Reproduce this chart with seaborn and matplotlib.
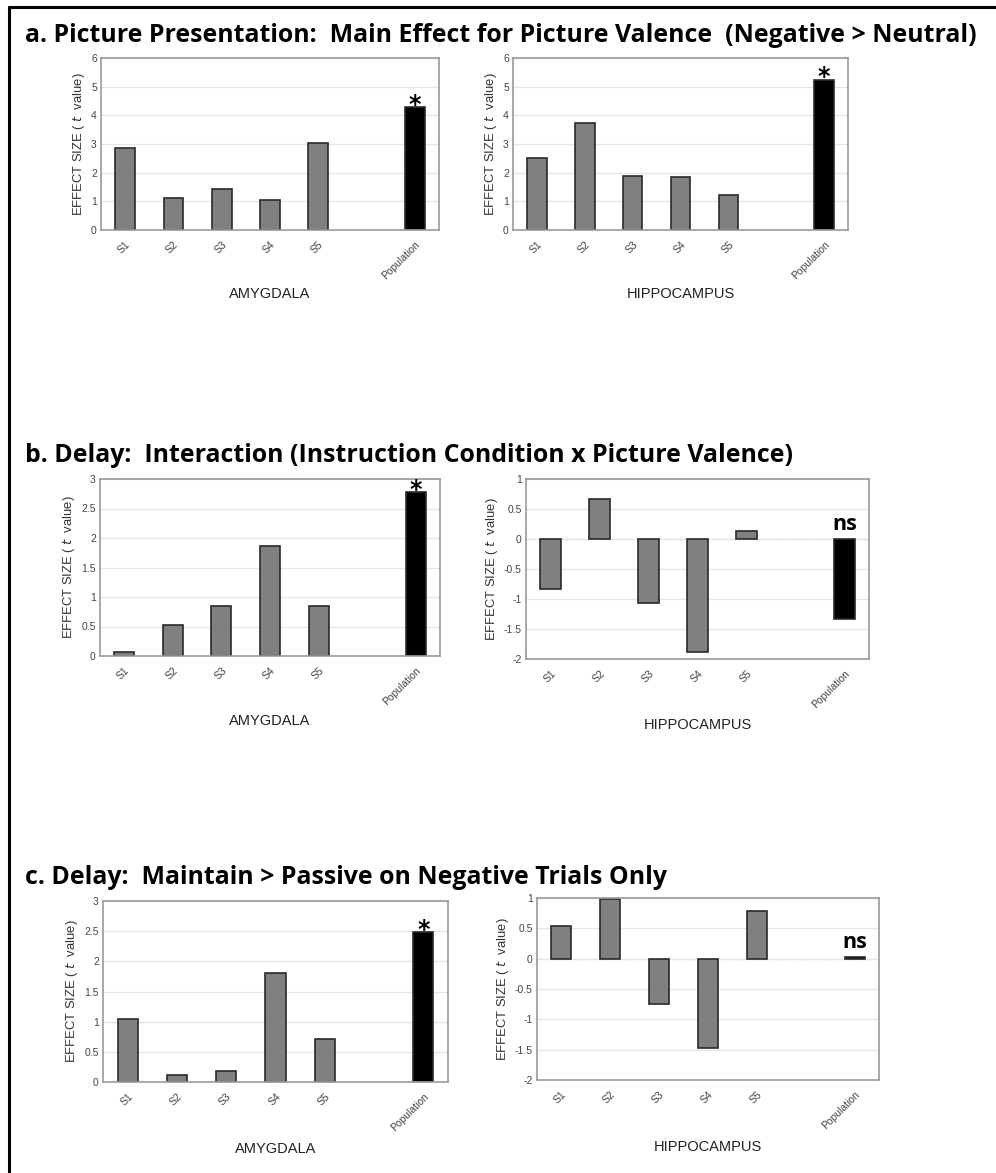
import pandas as pd
import seaborn as sns
import matplotlib.pyplot as plt
from matplotlib.lines import Line2D
from matplotlib.transforms import ScaledTranslation

# categories (blank slot between S5 and Population)
subjects = ["S1", "S2", "S3", "S4", "S5"]
population = "Population"
order = subjects + [" ", population]

# a. Picture presentation
a_amygdala = [2.85, 1.10, 1.42, 1.05, 3.05]
a_amygdala_pop = 4.30
a_hippocampus = [2.50, 3.73, 1.88, 1.85, 1.22]
a_hippocampus_pop = 5.25

# b. Delay interaction
b_amygdala = [0.07, 0.52, 0.84, 1.87, 0.84]
b_amygdala_pop = 2.78
b_hippocampus = [-0.83, 0.66, -1.07, -1.88, 0.14]
b_hippocampus_pop = -1.34

# c. Delay maintain > passive
c_amygdala = [1.05, 0.12, 0.18, 1.80, 0.72]
c_amygdala_pop = 2.48
c_hippocampus = [0.54, 0.99, -0.75, -1.48, 0.79]
c_hippocampus_pop = 0.02

titles = [
    "a. Picture Presentation:  Main Effect for Picture Valence  (Negative > Neutral)",
    "b. Delay:  Interaction (Instruction Condition x Picture Valence)",
    "c. Delay:  Maintain > Passive on Negative Trials Only",
]

sns.set_theme(style="white")
plt.rcParams["font.family"] = ["Liberation Sans", "DejaVu Sans"]

W, H = 996, 1173
fig = plt.figure(figsize=(W / 100, H / 100), dpi=100)


def px_axes(x0, y0, x1, y1):
    return fig.add_axes([x0 / W, 1 - y1 / H, (x1 - x0) / W, (y1 - y0) / H])


def draw_panel(ax, vals, pop, ylim, step, region, mark):
    df = pd.DataFrame({
        "cat": subjects + [population],
        "val": vals + [pop],
        "grp": ["subj"] * len(vals) + ["pop"],
    })
    sns.barplot(data=df, x="cat", y="val", hue="grp", order=order,
                palette={"subj": "#808080", "pop": "#000000"},
                dodge=False, legend=False, width=0.41,
                edgecolor="#2a2a2a", linewidth=1.2, ax=ax)
    ax.set_xlim(-0.5, 6.5)
    ax.set_ylim(*ylim)
    ticks = []
    t = ylim[0]
    while t <= ylim[1] + 1e-9:
        ticks.append(round(t, 2))
        t += step
    ax.set_yticks(ticks)
    ax.set_yticklabels([f"{v:g}" for v in ticks], fontsize=7.5, color="#444444")
    ax.yaxis.grid(True, color="#e4e4e4", linewidth=0.9)
    ax.set_axisbelow(True)
    if ylim[0] < 0:
        ax.axhline(0, color="#d8d8d8", linewidth=0.9, linestyle=(0, (6, 4)), zorder=0.5)
    ax.set_xticks(range(len(order)))
    ax.set_xticklabels([c if c.strip() else "" for c in order], rotation=45,
                       ha="right", rotation_mode="anchor", fontsize=7.5, color="#444444")
    ax.tick_params(axis="both", length=0, pad=3)
    ax.tick_params(axis="x", pad=7)
    for s in ax.spines.values():
        s.set_color("#9a9a9a")
        s.set_linewidth(1.2)
    ax.set_ylabel("EFFECT SIZE ( $t$  value)", fontsize=9.4, color="#333333", labelpad=3)
    ax.set_xlabel(region, fontsize=10.5, color="#222222", va="top")
    ax.xaxis.set_label_coords(0.5, -0.33)
    px = order.index(population)
    if mark == "*":
        ax.text(px, pop, "*", ha="center", va="center", fontsize=17,
                fontweight="bold", color="black", family="DejaVu Sans",
                transform=ax.transData + ScaledTranslation(0, 0.02, fig.dpi_scale_trans))
    else:
        base = max(pop, 0)
        ax.annotate("ns", (px, base), xytext=(0, 3), textcoords="offset points",
                    ha="center", va="bottom", fontsize=15.5, fontweight="bold",
                    family="Open Sans", color="black")


ax = px_axes(101, 58, 439, 230)
draw_panel(ax, a_amygdala, a_amygdala_pop, (0, 6), 1, "AMYGDALA", "*")
ax = px_axes(513, 58, 848, 230)
draw_panel(ax, a_hippocampus, a_hippocampus_pop, (0, 6), 1, "HIPPOCAMPUS", "*")
ax = px_axes(100, 479, 440, 656)
draw_panel(ax, b_amygdala, b_amygdala_pop, (0, 3), 0.5, "AMYGDALA", "*")
ax = px_axes(526, 479, 869, 659)
draw_panel(ax, b_hippocampus, b_hippocampus_pop, (-2, 1), 0.5, "HIPPOCAMPUS", "ns")
ax = px_axes(103, 901, 448, 1082)
draw_panel(ax, c_amygdala, c_amygdala_pop, (0, 3), 0.5, "AMYGDALA", "*")
ax = px_axes(537, 898, 879, 1080)
draw_panel(ax, c_hippocampus, c_hippocampus_pop, (-2, 1), 0.5, "HIPPOCAMPUS", "ns")

# section titles
for title, ypx in zip(titles, [35, 455, 878]):
    fig.text(25 / W, 1 - ypx / H, title, ha="left", va="center", fontsize=17.9,
             fontweight="bold", family="Open Sans", color="black")

# outer frame (top and left edges)
fig.add_artist(Line2D([9 / W, 1], [1 - 7 / H, 1 - 7 / H], color="black", linewidth=2.2))
fig.add_artist(Line2D([9 / W, 9 / W], [0, 1 - 7 / H], color="black", linewidth=2.2))

fig.savefig("out.png", dpi=100)
